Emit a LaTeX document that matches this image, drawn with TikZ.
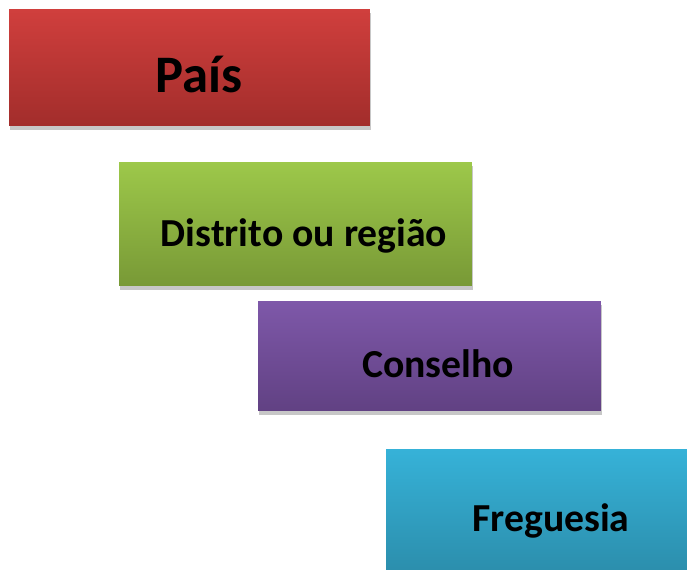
\documentclass[tikz,border=0pt]{standalone}
\usepackage{fontspec}
\setmainfont{Carlito}
\usetikzlibrary{positioning,shadows}
\tikzset{
  levelbox/.style={rectangle, inner sep=0pt,
    drop shadow={shadow xshift=0.5pt, shadow yshift=-2pt, fill=black, opacity=0.22}},
  leveltext/.style={anchor=base, inner sep=0pt, text=black, font=\bfseries\fontsize{22.6}{26}\selectfont}
}
\definecolor{paistop}{HTML}{D03F3D}
\definecolor{paisbot}{HTML}{A22D2B}
\definecolor{distop}{HTML}{9DC84A}
\definecolor{disbot}{HTML}{789936}
\definecolor{contop}{HTML}{7E58A9}
\definecolor{conbot}{HTML}{614183}
\definecolor{fretop}{HTML}{36B2D8}
\definecolor{frebot}{HTML}{2A89A6}
\begin{document}
\begin{tikzpicture}[x=0.02cm, y=-0.02cm]
\clip (0,0) rectangle (687,569);
% boxes
\node[levelbox, top color=paistop, bottom color=paisbot, minimum width=7.22cm, minimum height=2.34cm] (pais) at (189.5,67.5) {};
\node[levelbox, top color=distop, bottom color=disbot, minimum width=7.06cm, minimum height=2.48cm] (distrito) at (295.5,224) {};
\node[levelbox, top color=contop, bottom color=conbot, minimum width=6.86cm, minimum height=2.2cm] (conselho) at (429.5,356) {};
\node[levelbox, top color=fretop, bottom color=frebot, minimum width=6.6cm, minimum height=2.8cm] (freguesia) at (551,519) {};
% labels
\node[leveltext, font=\bfseries\fontsize{30}{36}\selectfont] (paistxt) at (199,92) {País};
\node[leveltext] (distritotxt) at (304,246) {Distrito ou região};
\node[leveltext] (conselhotxt) at (438,377) {Conselho};
\node[leveltext] (freguesiatxt) at (551,531) {Freguesia};
\end{tikzpicture}
\end{document}
